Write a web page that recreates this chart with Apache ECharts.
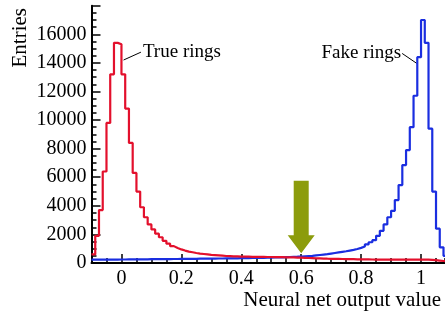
<!DOCTYPE html>
<html>
<head>
<meta charset="utf-8">
<script src="https://cdn.jsdelivr.net/npm/echarts@6/dist/echarts.min.js"></script>
<style>
  html, body { margin: 0; padding: 0; background: #fff; }
  #chart { width: 445px; height: 314px; }
</style>
</head>
<body>
<div id="chart"></div>
<script>
// histogram binning (bin left edges start at binStart)
var binStart = -0.1
var binWidth = 0.0125

// true rings (red), entries per bin
var trueRings = [
  600, 1900, 3700, 6400, 9800, 13200, 15400, 15300, 13200, 10800,
  8400, 6300, 5000, 3900, 3200, 2700, 2350, 2050, 1800, 1550,
  1350, 1180, 1050, 950, 870, 800, 750, 700, 660, 630,
  600, 570, 550, 530, 510, 490, 480, 470, 460, 450,
  445, 440, 435, 430, 430, 425, 420, 420, 415, 410,
  405, 400, 395, 390, 380, 370, 360, 350, 340, 330,
  320, 310, 300, 295, 290, 285, 280, 275, 270, 265,
  260, 255, 250, 248, 245, 242, 240, 238, 236, 234,
  232, 230, 232, 235, 238, 240, 242, 240, 238, 230,
  220, 200, 170, 140, 100, 60
]

// fake rings (blue), entries per bin
var fakeRings = [
  230, 230, 235, 235, 240, 240, 240, 245, 245, 250,
  250, 255, 255, 260, 260, 265, 265, 270, 270, 275,
  275, 280, 280, 285, 290, 290, 295, 295, 300, 300,
  305, 305, 310, 315, 315, 320, 325, 325, 330, 335,
  340, 345, 350, 355, 360, 365, 370, 380, 385, 395,
  400, 410, 420, 430, 440, 455, 470, 485, 500, 530,
  560, 590, 620, 660, 700, 740, 780, 820, 870, 920,
  980, 1060, 1150, 1300, 1450, 1600, 1900, 2250, 2700, 3200,
  3650, 4400, 5450, 6850, 7900, 9500, 11700, 14400, 17000, 15400,
  9400, 5000, 2400, 1100, 500, 200
]

var xMin = -0.1
var xMax = 1.08
var yMax = 18000

// annotations (data coordinates)
var cutValue = 0.6
var arrowTop = 5750
var arrowBase = 1950
var arrowTip = 680
var trueLabel = { text: 'True rings', from: [0.007, 14200], to: [0.065, 14750] }
var fakeLabel = { text: 'Fake rings', from: [0.986, 13960], to: [0.937, 14660] }

function toSteps(values) {
  var pts = values.map(function (v, i) {
    return [binStart + i * binWidth, v]
  })
  pts.push([binStart + values.length * binWidth, values[values.length - 1]])
  return pts
}

var font = '"Liberation Serif", "Times New Roman", serif'
var W = 445
var plotLeft = 91.5
// second grid starts at x = 0 so that its major ticks land on 0, 0.2, ...
var majorLeft = plotLeft + (0 - xMin) * (W - plotLeft) / (xMax - xMin)

var tickStyle = { color: '#000', width: 1.5 }
var chart = echarts.init(document.getElementById('chart'))

chart.setOption({
  animation: false,
  backgroundColor: '#fff',
  grid: [
    { left: plotLeft, right: 0, top: 5.7, bottom: 51 },
    { left: majorLeft, right: 0, top: 5.7, bottom: 51 }
  ],
  xAxis: [
    {
      type: 'value',
      gridIndex: 0,
      min: xMin,
      max: xMax,
      interval: 0.05,
      splitLine: { show: false },
      axisLine: { onZero: false, lineStyle: { color: '#000', width: 2 } },
      axisTick: { inside: true, length: 5, lineStyle: tickStyle },
      axisLabel: { show: false }
    },
    {
      type: 'value',
      gridIndex: 1,
      min: 0,
      max: xMax,
      interval: 0.2,
      splitLine: { show: false },
      axisLine: { show: false, onZero: false },
      axisTick: { inside: true, length: 9, lineStyle: tickStyle },
      axisLabel: {
        margin: 6,
        color: '#000',
        fontFamily: font,
        fontSize: 20,
        showMaxLabel: false,
        formatter: function (v) { return String(+v.toFixed(1)) }
      }
    }
  ],
  yAxis: [
    {
      type: 'value',
      gridIndex: 0,
      min: 0,
      max: yMax,
      interval: 2000,
      splitLine: { show: false },
      axisLine: { onZero: false, lineStyle: { color: '#000', width: 2 } },
      axisTick: { inside: true, length: 9, lineStyle: tickStyle },
      minorTick: { show: true, splitNumber: 4, length: 5, lineStyle: tickStyle },
      axisLabel: {
        margin: 5,
        color: '#000',
        fontFamily: font,
        fontSize: 20,
        showMaxLabel: false,
        formatter: function (v) { return String(v) }
      }
    },
    { type: 'value', gridIndex: 1, min: 0, max: yMax, show: false }
  ],
  series: [
    {
      name: 'True rings',
      type: 'line',
      step: 'end',
      symbol: 'none',
      data: toSteps(trueRings),
      lineStyle: { color: '#e3102c', width: 2.2 },
      z: 3
    },
    {
      name: 'Fake rings',
      type: 'line',
      step: 'end',
      symbol: 'none',
      data: toSteps(fakeRings),
      lineStyle: { color: '#1a2ee0', width: 2.2 },
      z: 2
    }
  ]
})

// annotations placed through the chart's own scales
var toPx = function (p) { return chart.convertToPixel({ gridIndex: 0 }, p) }
var arrowTopPx = toPx([cutValue, arrowTop])
var arrowBasePx = toPx([cutValue, arrowBase])
var arrowTipPx = toPx([cutValue, arrowTip])
var shaft = 7.5
var head = 13.5
var tf = toPx(trueLabel.from), tt = toPx(trueLabel.to)
var ff = toPx(fakeLabel.from), ft = toPx(fakeLabel.to)

chart.setOption({
  graphic: [
    {
      type: 'polygon',
      shape: {
        points: [
          [arrowTopPx[0] - shaft, arrowTopPx[1]], [arrowTopPx[0] + shaft, arrowTopPx[1]],
          [arrowBasePx[0] + shaft, arrowBasePx[1]], [arrowBasePx[0] + head, arrowBasePx[1]],
          [arrowTipPx[0], arrowTipPx[1]],
          [arrowBasePx[0] - head, arrowBasePx[1]], [arrowBasePx[0] - shaft, arrowBasePx[1]]
        ]
      },
      style: { fill: '#8c9c0c' },
      z: 10
    },
    { type: 'line', shape: { x1: tf[0], y1: tf[1], x2: tt[0], y2: tt[1] }, style: { stroke: '#000', lineWidth: 1 } },
    { type: 'line', shape: { x1: ff[0], y1: ff[1], x2: ft[0], y2: ft[1] }, style: { stroke: '#000', lineWidth: 1 } },
    {
      type: 'text', x: tt[0] + 2, y: tt[1],
      style: { text: trueLabel.text, font: '19px ' + font, fill: '#000', textVerticalAlign: 'middle' }
    },
    {
      type: 'text', x: ft[0] - 1, y: ft[1],
      style: { text: fakeLabel.text, font: '19px ' + font, fill: '#000', textAlign: 'right', textVerticalAlign: 'middle' }
    },
    {
      type: 'text', x: 20, y: 8, rotation: Math.PI / 2,
      style: { text: 'Entries', font: '21px ' + font, fill: '#000', textAlign: 'right', textVerticalAlign: 'middle' }
    },
    {
      type: 'text', x: 441, y: 300,
      style: { text: 'Neural net output value', font: '21px ' + font, fill: '#000', textAlign: 'right', textVerticalAlign: 'middle' }
    }
  ]
})
</script>
</body>
</html>
